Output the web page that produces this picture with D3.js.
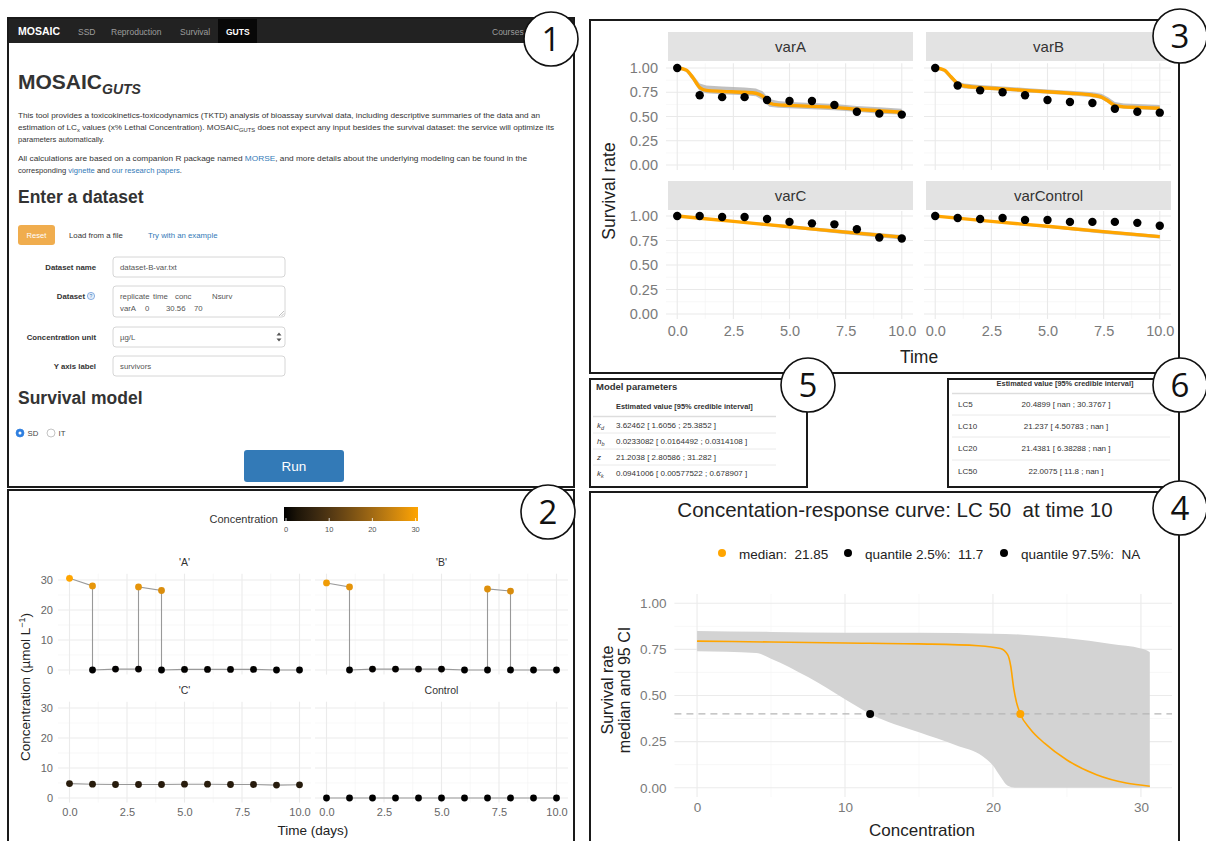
<!DOCTYPE html>
<html>
<head>
<meta charset="utf-8">
<title>MOSAIC GUTS</title>
<script src="https://cdn.jsdelivr.net/npm/d3@7"></script>
<style>
  body { margin: 0; background: #fff; }
  svg { display: block; }
  text { font-family: "Liberation Sans", Arial, sans-serif; white-space: pre; }
</style>
</head>
<body>
<svg id="fig"></svg>
<script>
const W = 1206, H = 841;
const ORANGE = "#ffa500";

// ---- panel 1 (web form)
const navItems = ["MOSAIC", "SSD", "Reproduction", "Survival", "GUTS", "Courses"];
const introLines = [
  [["This tool provides a toxicokinetics-toxicodynamics (TKTD) analysis of bioassay survival data, including descriptive summaries of the data and an"]],
  [["estimation of LC"], ["x", "sub"], [" values (x% Lethal Concentration). MOSAIC"], ["GUTS", "sub"], [" does not expect any input besides the survival dataset: the service will optimize its"]],
  [["parameters automatically."]],
  [["All calculations are based on a companion R package named "], ["MORSE", "link"], [", and more details about the underlying modeling can be found in the"]],
  [["corresponding "], ["vignette", "link"], [" and "], ["our research papers", "link"], ["."]]
];
const formLabels = ["Dataset name", "Dataset", "Concentration unit", "Y axis label"];
const formValues = ["dataset-B-var.txt", "", "µg/L", "survivors"];
const datasetHeader = ["replicate", "time", "conc", "Nsurv"];
const datasetRow = ["varA", "0", "30.56", "70"];
const modelChoices = ["SD", "IT"];

// ---- panel 2 (exposure profiles)
const concFacets = ["'A'", "'B'", "'C'", "Control"];
const concTimes = [
  [0, 1, 1, 2, 3, 3, 4, 4, 5, 6, 7, 8, 9, 10],
  [0, 1, 1, 2, 3, 4, 5, 6, 7, 7, 8, 8, 9, 10],
  [0, 1, 2, 3, 4, 5, 6, 7, 8, 9, 10],
  [0, 1, 2, 3, 4, 5, 6, 7, 8, 9, 10]
];
const concValues = [
  [30.56, 28.0, 0, 0.3, 0.3, 27.7, 26.5, 0, 0.2, 0.2, 0.2, 0.2, 0, 0],
  [29.0, 27.7, 0, 0.3, 0.3, 0.3, 0.3, 0, 0, 27.0, 26.3, 0, 0, 0],
  [4.8, 4.6, 4.5, 4.5, 4.5, 4.6, 4.6, 4.5, 4.5, 4.3, 4.4],
  [0, 0, 0, 0, 0, 0, 0, 0, 0, 0, 0]
];
const concTicksY = [0, 10, 20, 30];
const timeTicks = [0, 2.5, 5, 7.5, 10];

// ---- panel 3 (survival fits)
const survFacets = ["varA", "varB", "varC", "varControl"];
const survObsTime = [0, 1, 2, 3, 4, 5, 6, 7, 8, 9, 10];
const survObs = [
  [1.00, 0.72, 0.70, 0.70, 0.67, 0.66, 0.66, 0.62, 0.55, 0.53, 0.52],
  [1.00, 0.82, 0.77, 0.75, 0.72, 0.67, 0.65, 0.64, 0.58, 0.55, 0.54],
  [1.00, 1.00, 0.99, 0.99, 0.97, 0.94, 0.925, 0.915, 0.865, 0.78, 0.77],
  [1.00, 0.98, 0.97, 0.98, 0.96, 0.96, 0.94, 0.94, 0.94, 0.93, 0.90]
];
const survModelTime = [
  [0, 0.4, 0.7, 1, 1.3, 2, 3, 3.5, 3.8, 4.1, 4.5, 5, 6, 7, 8, 9, 10],
  [0, 0.4, 0.7, 1, 1.3, 2, 3, 4, 5, 6, 7, 7.4, 7.7, 8, 8.4, 9, 10],
  [0, 2.5, 5, 7.5, 10],
  [0, 2.5, 5, 7.5, 10]
];
const survMedian = [
  [1.00, 0.98, 0.90, 0.80, 0.77, 0.76, 0.75, 0.74, 0.71, 0.64, 0.62, 0.615, 0.605, 0.595, 0.575, 0.56, 0.545],
  [1.00, 0.98, 0.91, 0.84, 0.815, 0.80, 0.785, 0.77, 0.755, 0.74, 0.72, 0.70, 0.66, 0.615, 0.60, 0.595, 0.585],
  [1.00, 0.945, 0.89, 0.835, 0.785],
  [1.00, 0.945, 0.895, 0.84, 0.79]
];
const survLower = [
  [1.00, 0.96, 0.87, 0.76, 0.74, 0.73, 0.72, 0.71, 0.67, 0.60, 0.59, 0.585, 0.575, 0.565, 0.55, 0.53, 0.52],
  [1.00, 0.96, 0.88, 0.81, 0.79, 0.78, 0.765, 0.75, 0.735, 0.72, 0.70, 0.68, 0.64, 0.595, 0.58, 0.575, 0.565],
  [1.00, 0.935, 0.875, 0.815, 0.76],
  [1.00, 0.935, 0.88, 0.82, 0.77]
];
const survUpper = [
  [1.00, 0.99, 0.93, 0.84, 0.82, 0.81, 0.80, 0.79, 0.76, 0.68, 0.66, 0.65, 0.64, 0.63, 0.61, 0.595, 0.58],
  [1.00, 0.99, 0.93, 0.86, 0.84, 0.825, 0.81, 0.795, 0.78, 0.765, 0.75, 0.735, 0.70, 0.65, 0.635, 0.63, 0.62],
  [1.00, 0.955, 0.905, 0.855, 0.805],
  [1.00, 0.955, 0.905, 0.855, 0.805]
];
const survTicksY = [0, 0.25, 0.5, 0.75, 1];

// ---- panel 5 / 6 (tables)
const paramNames = [["k", "d"], ["h", "b"], ["z", ""], ["k", "k"]];
const paramValues = ["3.62462 [ 1.6056 ; 25.3852 ]", "0.0233082 [ 0.0164492 ; 0.0314108 ]",
                     "21.2038 [ 2.80586 ; 31.282 ]", "0.0941006 [ 0.00577522 ; 0.678907 ]"];
const lcNames = ["LC5", "LC10", "LC20", "LC50"];
const lcValues = ["20.4899 [ nan ; 30.3767 ]", "21.237 [ 4.50783 ; nan ]",
                  "21.4381 [ 6.38288 ; nan ]", "22.0075 [ 11.8 ; nan ]"];

// ---- panel 4 (concentration-response)
const crMedConc = [0, 5, 10, 15, 19, 20.5, 21, 21.2, 21.4, 21.6, 21.85, 22.5, 23.5, 25, 27, 29, 30.6];
const crMedVal  = [0.795, 0.79, 0.785, 0.78, 0.77, 0.755, 0.72, 0.66, 0.54, 0.46, 0.40, 0.32, 0.24, 0.15, 0.07, 0.025, 0.008];
const crUpConc = [0, 5, 10, 15, 20, 22, 25, 28, 30, 30.6];
const crUpVal  = [0.85, 0.845, 0.84, 0.84, 0.835, 0.83, 0.81, 0.78, 0.755, 0.735];
const crLoConc = [0, 4, 5, 7.5, 10, 11.7, 15, 17.5, 19.3, 20, 20.5, 21, 21.5, 30.6];
const crLoVal  = [0.74, 0.73, 0.70, 0.60, 0.48, 0.40, 0.30, 0.23, 0.17, 0.12, 0.06, 0.01, 0, 0];
const lcLevel = 0.40;
const lcPoints = [{c: 21.85, col: ORANGE}, {c: 11.7, col: "#000"}];
const crLegend = [["median:  21.85", ORANGE], ["quantile 2.5%:  11.7", "#000"], ["quantile 97.5%:  NA", "#000"]];
const crTicksX = [0, 10, 20, 30];

const svg = d3.select("#fig").attr("width", W).attr("height", H);
svg.append("rect").attr("width", W).attr("height", H).attr("fill", "#fff");

const mids = a => d3.pairs(a, (p, q) => (p + q) / 2);

function drawGrid(g, x, y, xt, yt, major, minor) {
  const [xa, xb] = x.range(), [ya, yb] = y.range();
  const inX = v => v >= x.domain()[0] && v <= x.domain()[1];
  const inY = v => v >= y.domain()[0] && v <= y.domain()[1];
  g.selectAll(null).data(mids(xt).filter(inX)).join("line")
    .attr("x1", d => x(d)).attr("x2", d => x(d)).attr("y1", ya).attr("y2", yb)
    .attr("stroke", minor).attr("stroke-width", 0.6);
  g.selectAll(null).data(mids(yt).filter(inY)).join("line")
    .attr("y1", d => y(d)).attr("y2", d => y(d)).attr("x1", xa).attr("x2", xb)
    .attr("stroke", minor).attr("stroke-width", 0.6);
  g.selectAll(null).data(xt).join("line")
    .attr("x1", d => x(d)).attr("x2", d => x(d)).attr("y1", ya).attr("y2", yb)
    .attr("stroke", major).attr("stroke-width", 1.1);
  g.selectAll(null).data(yt).join("line")
    .attr("y1", d => y(d)).attr("y2", d => y(d)).attr("x1", xa).attr("x2", xb)
    .attr("stroke", major).attr("stroke-width", 1.1);
}

function axisText(g, axis, tx, ty, size, color) {
  const a = g.append("g").attr("transform", `translate(${tx},${ty})`).call(axis);
  a.select(".domain").remove();
  a.selectAll("line").remove();
  a.selectAll("text").attr("font-size", size).attr("fill", color)
    .style("font-family", "'Liberation Sans', Arial, sans-serif");
}

// =================== PANEL 1 ===================
const p1 = svg.append("g");
p1.append("rect").attr("x", 9).attr("y", 19).attr("width", 564).attr("height", 24).attr("fill", "#222");
p1.append("rect").attr("x", 218).attr("y", 19).attr("width", 39).attr("height", 24).attr("fill", "#080808");
const navX = [18, 78, 111, 180, 226, 492];
p1.selectAll(null).data(navItems).join("text")
  .attr("x", (d, i) => navX[i]).attr("y", 34.5)
  .attr("font-size", (d, i) => i === 0 ? 10.5 : 8.5)
  .attr("font-weight", (d, i) => (i === 0 || i === 4) ? "bold" : "normal")
  .attr("fill", (d, i) => (i === 0 || i === 4) ? "#fff" : "#9d9d9d")
  .text(d => d);

const title = p1.append("text").attr("x", 18).attr("y", 89).attr("fill", "#333").attr("font-weight", "bold");
title.append("tspan").attr("font-size", 21).text("MOSAIC");
title.append("tspan").attr("font-size", 14).attr("font-style", "italic").attr("dy", 5).text("GUTS");

const introY = [118, 130, 142, 161, 173];
const introW = [522, 536, 0, 509, 0];
introLines.forEach((segs, i) => {
  const tx = p1.append("text").attr("x", 18).attr("y", introY[i]).attr("font-size", 7.6).attr("fill", "#333");
  if (introW[i]) tx.attr("textLength", introW[i]).attr("lengthAdjust", "spacingAndGlyphs");
  let shifted = false;
  segs.forEach(([s, k]) => {
    const ts = tx.append("tspan").text(s);
    if (k === "sub") { ts.attr("font-size", 5.4).attr("dy", 2); shifted = true; }
    else if (shifted) { ts.attr("dy", -2); shifted = false; }
    if (k === "link") ts.attr("fill", "#337ab7");
  });
});

p1.append("text").attr("x", 18).attr("y", 203).attr("font-size", 17.5).attr("font-weight", "bold")
  .attr("fill", "#333").text("Enter a dataset");

p1.append("rect").attr("x", 18).attr("y", 225).attr("width", 37).attr("height", 20).attr("rx", 3).attr("fill", "#f0ad4e");
p1.append("text").attr("x", 36.5).attr("y", 238).attr("text-anchor", "middle").attr("font-size", 7.6).attr("fill", "#fff").text("Reset");
p1.append("text").attr("x", 69).attr("y", 238).attr("font-size", 7.8).attr("fill", "#333").text("Load from a file");
p1.append("text").attr("x", 148).attr("y", 238).attr("font-size", 7.8).attr("fill", "#337ab7").text("Try with an example");

const boxTop = [257, 286, 327, 356], boxBot = [277, 317, 347, 376];
formLabels.forEach((lab, i) => {
  const cy = (boxTop[i] + boxBot[i]) / 2;
  const ly = i === 1 ? 299 : cy + 3;
  p1.append("text").attr("x", i === 1 ? 85 : 96).attr("y", ly).attr("text-anchor", "end")
    .attr("font-size", 7.8).attr("font-weight", "bold").attr("fill", "#333").text(lab);
  p1.append("rect").attr("x", 113).attr("y", boxTop[i]).attr("width", 172).attr("height", boxBot[i] - boxTop[i])
    .attr("rx", 3).attr("fill", "#fff").attr("stroke", "#ccc").attr("stroke-width", 0.8);
  if (formValues[i]) p1.append("text").attr("x", 120).attr("y", cy + 3).attr("font-size", 7.8)
    .attr("fill", "#555").text(formValues[i]);
});
// help icon
p1.append("circle").attr("cx", 91).attr("cy", 296).attr("r", 3.6).attr("fill", "#e6eefa").attr("stroke", "#5b8fd6").attr("stroke-width", 0.7);
p1.append("text").attr("x", 91).attr("y", 298).attr("text-anchor", "middle").attr("font-size", 5).attr("fill", "#337ab7").text("?");
// textarea content
const dsX1 = [120, 153, 175, 212], dsX2 = [120, 145, 166, 194];
datasetHeader.forEach((s, i) => p1.append("text").attr("x", dsX1[i]).attr("y", 299).attr("font-size", 7.8).attr("fill", "#555").text(s));
datasetRow.forEach((s, i) => p1.append("text").attr("x", dsX2[i]).attr("y", 311).attr("font-size", 7.8).attr("fill", "#555").text(s));
p1.append("path").attr("d", "M279,316 L284,311 M281.5,316 L284,313.5").attr("stroke", "#999").attr("stroke-width", 0.6);
// select arrows
p1.append("path").attr("d", "M279.5,335.5 L282,332.5 L284.5,335.5 Z M279.5,338.5 L282,341.5 L284.5,338.5 Z").attr("fill", "#555").attr("transform", "translate(-3,0)");

p1.append("text").attr("x", 18).attr("y", 404).attr("font-size", 17.5).attr("font-weight", "bold")
  .attr("fill", "#333").text("Survival model");
const radioX = [20, 51];
modelChoices.forEach((s, i) => {
  p1.append("circle").attr("cx", radioX[i]).attr("cy", 433).attr("r", 4)
    .attr("fill", i === 0 ? "#2f7fe0" : "#fff").attr("stroke", i === 0 ? "#2f7fe0" : "#aaa").attr("stroke-width", 0.7);
  if (i === 0) p1.append("circle").attr("cx", radioX[i]).attr("cy", 433).attr("r", 1.5).attr("fill", "#fff");
  p1.append("text").attr("x", radioX[i] + 7.5).attr("y", 436).attr("font-size", 7.8).attr("fill", "#444").text(s);
});
p1.append("rect").attr("x", 244).attr("y", 450).attr("width", 100).attr("height", 32).attr("rx", 3).attr("fill", "#337ab7");
p1.append("text").attr("x", 294).attr("y", 471).attr("text-anchor", "middle").attr("font-size", 13.5).attr("fill", "#fff").text("Run");

// =================== PANEL 2 ===================
const p2 = svg.append("g");
const concColor = d3.scaleLinear().domain([0, 30.56]).range(["#000000", ORANGE]).interpolate(d3.interpolateLab);
const cx2 = [d3.scaleLinear().domain([-0.5, 10.5]).range([58, 311]), d3.scaleLinear().domain([-0.5, 10.5]).range([315, 568])];
const cy2 = [d3.scaleLinear().domain([-1.53, 32.09]).range([674.6, 573.7]), d3.scaleLinear().domain([-1.53, 32.09]).range([802.6, 701.7])];

// colour bar legend
const grad = svg.append("defs").append("linearGradient").attr("id", "concGrad");
d3.range(0, 1.0001, 0.1).forEach(t => grad.append("stop").attr("offset", t).attr("stop-color", concColor(t * 30.56)));
const barX = d3.scaleLinear().domain([0, 30.56]).range([286, 418]);
p2.append("rect").attr("x", 284).attr("y", 507).attr("width", 134).attr("height", 14).attr("fill", "url(#concGrad)");
p2.selectAll(null).data(concTicksY).join("line")
  .attr("x1", d => barX(d)).attr("x2", d => barX(d)).attr("y1", 518).attr("y2", 521).attr("stroke", "#fff").attr("stroke-width", 0.8);
p2.selectAll(null).data(concTicksY).join("text")
  .attr("x", d => barX(d)).attr("y", 532).attr("text-anchor", "middle").attr("font-size", 7.5).attr("fill", "#555").text(d => d);
p2.append("text").attr("x", 278).attr("y", 523).attr("text-anchor", "end").attr("font-size", 11).attr("fill", "#333").text("Concentration");

concFacets.forEach((name, i) => {
  const col = i % 2, row = Math.floor(i / 2);
  const x = cx2[col], y = cy2[row];
  const g = p2.append("g");
  drawGrid(g, x, y, timeTicks, concTicksY, "#ebebeb", "#f4f4f4");
  g.append("text").attr("x", (x.range()[0] + x.range()[1]) / 2).attr("y", y.range()[1] - 8)
    .attr("text-anchor", "middle").attr("font-size", 10.5).attr("fill", "#333").text(name);
  const pts = concTimes[i].map((t, j) => [t, concValues[i][j]]);
  g.append("path").datum(pts).attr("fill", "none").attr("stroke", "#999").attr("stroke-width", 1.1)
    .attr("d", d3.line().x(d => x(d[0])).y(d => y(d[1])));
  g.selectAll(null).data(pts).join("circle")
    .attr("cx", d => x(d[0])).attr("cy", d => y(d[1])).attr("r", 3.4).attr("fill", d => concColor(d[1]));
  if (col === 0) axisText(g, d3.axisLeft(y).tickValues(concTicksY).tickSize(0).tickPadding(5), x.range()[0], 0, 11, "#666");
  if (row === 1) axisText(g, d3.axisBottom(x).tickValues(timeTicks).tickFormat(d3.format(".1f")).tickSize(0).tickPadding(6), 0, y.range()[0], 11, "#666");
});
p2.append("text").attr("x", 313).attr("y", 835).attr("text-anchor", "middle").attr("font-size", 13.5).attr("fill", "#222").text("Time (days)");
const yt2 = p2.append("text").attr("transform", "translate(30,687) rotate(-90)").attr("text-anchor", "middle")
  .attr("font-size", 13.5).attr("fill", "#222");
yt2.append("tspan").text("Concentration (µmol L");
yt2.append("tspan").attr("font-size", 9).attr("dy", -5).text("−1");
yt2.append("tspan").attr("dy", 5).text(")");

// =================== PANEL 3 ===================
const p3 = svg.append("g");
const sx3 = [d3.scaleLinear().domain([-0.5, 10.5]).range([666, 913]), d3.scaleLinear().domain([-0.5, 10.5]).range([924, 1171])];
const sy3 = [d3.scaleLinear().domain([-0.05, 1.05]).range([169.9, 63.2]), d3.scaleLinear().domain([-0.05, 1.05]).range([318.9, 211.1])];
const stripTop = [32, 181];
survFacets.forEach((name, i) => {
  const col = i % 2, row = Math.floor(i / 2);
  const x = sx3[col], y = sy3[row];
  const g = p3.append("g");
  g.append("rect").attr("x", x.range()[0] + 2).attr("y", stripTop[row]).attr("width", x.range()[1] - x.range()[0] - 2)
    .attr("height", 29).attr("fill", "#e3e3e3");
  g.append("text").attr("x", (x.range()[0] + x.range()[1]) / 2 + 1).attr("y", stripTop[row] + 20)
    .attr("text-anchor", "middle").attr("font-size", 15).attr("fill", "#333").text(name);
  drawGrid(g, x, y, timeTicks, survTicksY, "#e9e9e9", "#f3f3f3");
  const t = survModelTime[i];
  const band = t.map((v, j) => [v, survUpper[i][j]]).concat(t.map((v, j) => [v, survLower[i][j]]).reverse());
  g.append("path").datum(band).attr("fill", "#b0b0b0").attr("opacity", 0.8)
    .attr("d", d3.line().x(d => x(d[0])).y(d => y(d[1])));
  g.append("path").datum(t.map((v, j) => [v, survMedian[i][j]])).attr("fill", "none")
    .attr("stroke", ORANGE).attr("stroke-width", 3.4).attr("stroke-linejoin", "round")
    .attr("d", d3.line().curve(d3.curveMonotoneX).x(d => x(d[0])).y(d => y(d[1])));
  g.selectAll(null).data(survObsTime.map((v, j) => [v, survObs[i][j]])).join("circle")
    .attr("cx", d => x(d[0])).attr("cy", d => y(d[1])).attr("r", 4.2).attr("fill", "#000");
  if (col === 0) axisText(g, d3.axisLeft(y).tickValues(survTicksY).tickFormat(d3.format(".2f")).tickSize(0).tickPadding(8), x.range()[0], 0, 14.5, "#7a7a7a");
  if (row === 1) axisText(g, d3.axisBottom(x).tickValues(timeTicks).tickFormat(d3.format(".1f")).tickSize(0).tickPadding(7), 0, y.range()[0], 14.5, "#7a7a7a");
});
p3.append("text").attr("x", 919).attr("y", 363).attr("text-anchor", "middle").attr("font-size", 17.5).attr("fill", "#222").text("Time");
p3.append("text").attr("transform", "translate(615,191) rotate(-90)").attr("text-anchor", "middle")
  .attr("font-size", 17.5).attr("fill", "#222").text("Survival rate");

// =================== PANEL 5 ===================
const p5 = svg.append("g");
p5.append("text").attr("x", 596).attr("y", 390).attr("font-size", 9.5).attr("font-weight", "bold").attr("fill", "#333").text("Model parameters");
p5.append("text").attr("x", 616).attr("y", 409).attr("font-size", 7.4).attr("font-weight", "bold").attr("fill", "#333").text("Estimated value [95% credible interval]");
const rowY5 = [425, 441, 457, 473];
p5.append("line").attr("x1", 593).attr("x2", 776).attr("y1", 416.5).attr("y2", 416.5).attr("stroke", "#ddd").attr("stroke-width", 1.6);
rowY5.slice(1).forEach(yv => p5.append("line").attr("x1", 593).attr("x2", 776).attr("y1", yv - 8).attr("y2", yv - 8).attr("stroke", "#e4e4e4").attr("stroke-width", 0.8));
paramNames.forEach(([sym, sub], i) => {
  const tx = p5.append("text").attr("x", 597).attr("y", rowY5[i] + 3).attr("font-size", 8).attr("font-style", "italic").attr("fill", "#333");
  tx.append("tspan").text(sym);
  if (sub) tx.append("tspan").attr("font-size", 5.5).attr("dy", 2).text(sub);
  p5.append("text").attr("x", 616).attr("y", rowY5[i] + 3).attr("font-size", 8).attr("fill", "#333").text(paramValues[i]);
});

// =================== PANEL 6 ===================
const p6 = svg.append("g");
p6.append("text").attr("x", 1065).attr("y", 386).attr("text-anchor", "middle").attr("font-size", 7.4).attr("font-weight", "bold").attr("fill", "#333").text("Estimated value [95% credible interval]");
const rowY6 = [404, 426, 448, 471];
p6.append("line").attr("x1", 952).attr("x2", 1170).attr("y1", 393.5).attr("y2", 393.5).attr("stroke", "#ddd").attr("stroke-width", 1.6);
rowY6.slice(1).forEach(yv => p6.append("line").attr("x1", 952).attr("x2", 1170).attr("y1", yv - 11).attr("y2", yv - 11).attr("stroke", "#e4e4e4").attr("stroke-width", 0.8));
lcNames.forEach((n, i) => {
  p6.append("text").attr("x", 958).attr("y", rowY6[i] + 3).attr("font-size", 8).attr("fill", "#333").text(n);
  p6.append("text").attr("x", 1066).attr("y", rowY6[i] + 3).attr("text-anchor", "middle").attr("font-size", 8).attr("fill", "#333").text(lcValues[i]);
});

// =================== PANEL 4 ===================
const p4 = svg.append("g");
const x4 = d3.scaleLinear().domain([-1.53, 32.1]).range([674.4, 1172]);
const y4 = d3.scaleLinear().domain([-0.05, 1.05]).range([796.9, 594.1]);
p4.append("text").attr("x", 895).attr("y", 517).attr("text-anchor", "middle").attr("font-size", 20.5).attr("fill", "#222")
  .text("Concentation-response curve: LC 50  at time 10");
const legX = [722, 848, 1004];
crLegend.forEach(([lab, col], i) => {
  p4.append("circle").attr("cx", legX[i]).attr("cy", 553).attr("r", 4).attr("fill", col);
  p4.append("text").attr("x", legX[i] + 17).attr("y", 559).attr("font-size", 13.5).attr("fill", "#222").text(lab);
});
drawGrid(p4, x4, y4, crTicksX, survTicksY, "#ebebeb", "#f4f4f4");
const ribbon = crUpConc.map((c, j) => [c, crUpVal[j]]).concat(crLoConc.map((c, j) => [c, crLoVal[j]]).reverse());
p4.append("path").datum(ribbon).attr("fill", "#d3d3d3")
  .attr("d", d3.line().curve(d3.curveMonotoneX).x(d => x4(d[0])).y(d => y4(d[1])));
p4.append("line").attr("x1", x4.range()[0]).attr("x2", x4.range()[1]).attr("y1", y4(lcLevel)).attr("y2", y4(lcLevel))
  .attr("stroke", "#b5b5b5").attr("stroke-width", 1.3).attr("stroke-dasharray", "7,5");
p4.append("path").datum(crMedConc.map((c, j) => [c, crMedVal[j]])).attr("fill", "none")
  .attr("stroke", ORANGE).attr("stroke-width", 1.6)
  .attr("d", d3.line().curve(d3.curveMonotoneX).x(d => x4(d[0])).y(d => y4(d[1])));
p4.selectAll(null).data(lcPoints).join("circle")
  .attr("cx", d => x4(d.c)).attr("cy", y4(lcLevel)).attr("r", 4).attr("fill", d => d.col);
axisText(p4, d3.axisLeft(y4).tickValues(survTicksY).tickFormat(d3.format(".2f")).tickSize(0).tickPadding(8), x4.range()[0], 0, 13.5, "#7a7a7a");
axisText(p4, d3.axisBottom(x4).tickValues(crTicksX).tickSize(0).tickPadding(6), 0, y4.range()[0], 13.5, "#7a7a7a");
p4.append("text").attr("x", 922).attr("y", 836).attr("text-anchor", "middle").attr("font-size", 17).attr("fill", "#222").text("Concentration");
const yt4 = p4.append("text").attr("transform", "translate(613,690) rotate(-90)").attr("text-anchor", "middle")
  .attr("font-size", 16).attr("fill", "#222");
yt4.append("tspan").attr("x", 0).attr("dy", 0).text("Survival rate");
yt4.append("tspan").attr("x", 0).attr("dy", 17).text("median and 95 CI");

// =================== frames and tags ===================
const frames = [[8, 18, 574, 487], [8, 490, 574, 846], [590, 20, 1179, 373], [590, 379, 807, 487], [948, 379, 1179, 487], [590, 492, 1179, 846]];
svg.selectAll(null).data(frames).join("rect")
  .attr("x", d => d[0]).attr("y", d => d[1]).attr("width", d => d[2] - d[0]).attr("height", d => d[3] - d[1])
  .attr("fill", "none").attr("stroke", "#1a1a1a").attr("stroke-width", 2);

const tags = [[551, 39, "1"], [548, 512, "2"], [1180, 36, "3"], [1180, 508, "4"], [808, 385, "5"], [1180, 385, "6"]];
const tg = svg.selectAll(null).data(tags).join("g").attr("transform", d => `translate(${d[0]},${d[1]})`);
tg.append("circle").attr("r", 27).attr("fill", "#fff").attr("stroke", "#111").attr("stroke-width", 1.6);
tg.append("text").attr("y", 12).attr("text-anchor", "middle").attr("font-size", 33).attr("fill", "#111")
  .style("font-family", "'Open Sans', sans-serif").text(d => d[2]);
</script>
</body>
</html>
